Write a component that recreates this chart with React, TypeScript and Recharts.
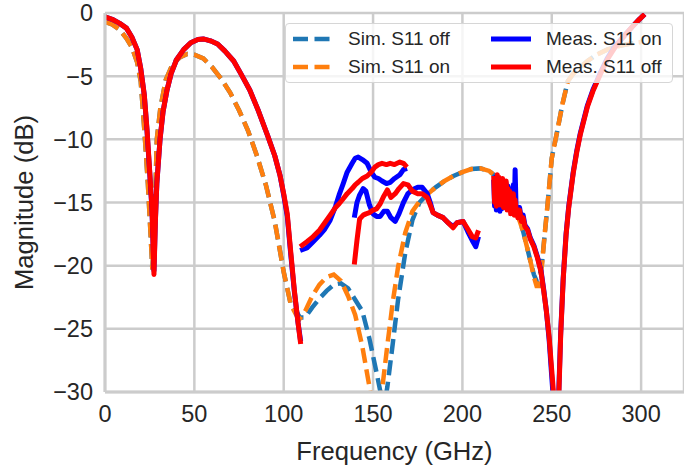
import { LineChart, Line, XAxis, YAxis, CartesianGrid, Label } from 'recharts';

// simulated S11, both states on one frequency grid (GHz / dB)
const simFreq = [
  0, 4, 8, 12, 15, 18, 20, 22, 24, 25.5,
  26.5, 27.5, 29, 31, 34, 38, 42, 46, 50, 55,
  60, 65, 70, 75, 80, 85, 90, 95, 100, 104,
  107, 109, 112, 116, 120, 124, 128, 132, 136, 140,
  144, 148, 152, 154, 156, 158, 161, 164, 168, 172,
  176, 180, 185, 190, 195, 200, 205, 210, 215, 220,
  225, 230, 234, 238, 240, 241.5, 243, 244.5, 246, 247.5,
  250, 253, 256, 259, 262, 266, 270, 275, 281, 288,
  295, 300,
];
const simOn = [
  -0.7, -0.9, -1.3, -2.0, -2.7, -3.9, -5.4, -9.2, -13.5, -17.5,
  -20.3, -17.8, -10, -7.5, -5.3, -4.0, -3.5, -3.25, -3.3, -3.6,
  -4.3, -5.2, -6.3, -7.7, -9.3, -11.3, -13.6, -16.5, -20.5, -23.1,
  -23.9, -24.2, -23.6, -22.4, -21.5, -20.9, -20.7, -21.2, -22.4, -23.9,
  -26.4, -29.6, -33, -31, -28.7, -26.3, -22.9, -20.1, -17.4, -15.7,
  -14.9, -14.4, -13.8, -13.3, -12.9, -12.6, -12.35, -12.3, -12.5, -13.1,
  -14.1, -15.6, -17.3, -19.6, -20.9, -21.6, -21.6, -20.0, -17.6, -15.4,
  -11.5, -9.4, -7.2, -5.4, -4.8, -4.3, -3.8, -3.3, -2.9, -2.6,
  -2.4, -2.3,
];
const simOff = [
  -0.7, -0.9, -1.3, -2.0, -2.7, -3.9, -5.4, -9.2, -13.5, -17.5,
  -20.3, -17.8, -10, -7.5, -5.3, -4.0, -3.5, -3.25, -3.3, -3.6,
  -4.3, -5.2, -6.3, -7.7, -9.3, -11.3, -13.6, -16.5, -20.5, -23.1,
  -23.6, -24.1, -24.1, -23.3, -22.6, -22.0, -21.5, -21.4, -21.8, -22.7,
  -23.6, -25.8, -28.5, -29.9, -31.3, -29.6, -26.2, -22.7, -19.0, -16.4,
  -15.0, -14.4, -13.8, -13.3, -12.9, -12.6, -12.35, -12.3, -12.5, -13.1,
  -14.1, -15.6, -17.3, -19.6, -20.7, -21.2, -21.0, -19.8, -17.6, -15.4,
  -11.5, -9.4, -7.2, -5.4, -4.8, -4.3, -3.8, -3.3, -2.9, -2.6,
  -2.4, -2.3,
];

// measured S11, four bands
const band1Freq = [
  0, 4, 8, 12, 15, 18, 20, 22, 23.5, 25,
  26.3, 27.4, 28.2, 29, 30.8, 32.5, 34.7, 37, 40, 44,
  48, 52, 55, 59, 63, 67, 72, 76, 81, 86,
  91, 95, 98, 100, 102, 104, 106, 108, 109.5,
];
const measOffBand1 = [
  -0.3, -0.5, -0.8, -1.2, -1.9, -2.9, -4.4, -6.5, -9.2, -12.5,
  -15.5, -20.7, -16.5, -13.5, -10, -7.8, -6.1, -4.8, -3.7, -2.9,
  -2.35, -2.1, -2.05, -2.2, -2.45, -3.0, -3.8, -4.8, -6.1, -7.8,
  -9.7, -11.3, -12.9, -14.3, -15.9, -19, -22, -24.5, -26.2,
];
const measOnBand1 = [
  -0.3, -0.5, -0.8, -1.2, -1.9, -2.9, -4.4, -6.5, -9.3, -12.6,
  -15.6, -20.4, -16.4, -13.5, -10, -7.8, -6.1, -4.8, -3.7, -2.9,
  -2.35, -2.1, -2.05, -2.2, -2.45, -3.0, -3.8, -4.8, -6.1, -7.8,
  -9.7, -11.3, -12.9, -14.4, -16.1, -19.2, -22.1, -24.5, -26.0,
];

const band2Freq = [
  109.2, 113, 116.5, 120, 123, 126, 129, 131, 133.3, 135.5,
  138.3, 140, 141.7, 144, 146.7, 149, 151, 153, 155, 157.5,
  159.6, 162, 165, 167, 169,
];
const measOnBand2 = [
  -18.8, -18.6, -18.1, -17.6, -17.1, -16.4, -15.3, -14.4, -13.5, -12.6,
  -11.9, -11.5, -11.4, -11.6, -11.9, -12.6, -13.0, -13.1, -13.3, -13.5,
  -13.4, -13.1, -12.8, -12.4, -12.3,
];
const measOffBand2 = [
  -18.5, -18.1, -17.7, -17.2, -16.6, -16.0, -15.4, -15.1, -14.7, -14.3,
  -13.9, -13.6, -13.4, -13.1, -12.9, -12.6, -12.2, -12.0, -11.9, -12.0,
  -11.9, -12.0, -11.8, -11.9, -12.2,
];

const band3Freq = [
  139.5, 141, 142.5, 144.5, 146, 148, 150, 152, 154, 156,
  158, 160, 162.4, 164.5, 167, 169.5, 172, 175, 177.5, 180.3,
  182, 183.6, 186, 189.2, 192, 194.8, 197, 200.4, 203, 205.5,
  207.5, 209,
];
const measOnBand3 = [
  -16.2, -15.0, -14.4, -13.9, -14.1, -15.2, -15.9, -16.1, -16.1, -15.7,
  -15.7, -16.2, -16.5, -15.9, -15.0, -14.3, -14.0, -13.8, -13.8, -14.3,
  -15.0, -15.8, -16.0, -16.2, -16.6, -16.9, -16.6, -16.5, -17.3, -18.0,
  -18.5, -17.7,
];
const measOffBand3 = [
  -19.9, -18.0, -16.3, -16.0, -15.9, -15.8, -15.6, -15.5, -15.1, -14.5,
  -14.0, -14.6, -14.3, -13.9, -13.5, -13.6, -14.1, -14.3, -14.3, -14.6,
  -15.2, -15.8, -16.0, -16.2, -16.6, -17.0, -16.6, -16.5, -17.1, -17.7,
  -17.8, -17.2,
];

const band4Freq = [
  217.5, 218, 218.5, 219, 219.5, 220, 220.5, 221, 221.5, 222,
  222.5, 223, 223.5, 224, 224.5, 225, 225.5, 226, 226.5, 227,
  227.5, 228, 228.5, 229, 229.5, 230, 231, 232, 233, 234,
  235, 236.5, 238, 240, 242, 244, 245.5, 247, 248.5, 250,
  251.5, 253, 253.8, 255, 256.4, 258, 259.5, 262, 264, 266,
  270, 273, 277, 281, 285, 290, 295, 299, 302,
];
const measOffBand4 = [
  -12.9, -15.0, -13.2, -15.3, -12.8, -14.6, -13.0, -15.2, -13.4, -14.9,
  -13.1, -15.4, -13.6, -15.0, -13.3, -15.6, -13.9, -15.3, -14.1, -15.9,
  -14.4, -15.7, -14.3, -16.0, -14.8, -15.5, -16.2, -15.6, -16.5, -16.2,
  -16.9, -17.2, -17.9, -18.5, -19.4, -20.5, -22.0, -23.6, -25.6, -28.3,
  -31.0, -33.0, -31.0, -25.5, -21.1, -17.6, -15.4, -12.7, -11.0, -9.6,
  -7.4, -6.2, -4.9, -3.7, -2.8, -1.9, -1.1, -0.5, -0.1,
];
const measOnBand4 = [
  -13.2, -15.3, -13.0, -15.6, -13.1, -14.8, -13.3, -15.7, -13.6, -15.5,
  -13.4, -15.4, -13.8, -15.2, -13.5, -15.5, -13.7, -15.1, -13.9, -15.6,
  -14.2, -15.4, -13.6, -15.8, -12.4, -15.3, -16.0, -15.4, -16.3, -16.0,
  -16.8, -17.1, -17.8, -18.4, -19.3, -20.4, -21.9, -23.6, -25.8, -28.8,
  -31.8, -33.0, -30.5, -25.3, -21.0, -17.5, -15.3, -12.6, -10.9, -9.5,
  -7.3, -6.1, -4.8, -3.6, -2.7, -1.9, -1.1, -0.5, -0.1,
];

const xTicks = [0, 50, 100, 150, 200, 250, 300];
const yTicks = [0, -5, -10, -15, -20, -25, -30];

const zip = (f: number[], v: number[]) => f.map((x, i) => ({ f: x, db: v[i] as number | null }));
// join bands into one series, with a null point between them so the line breaks
const joinBands = (...bands: { f: number; db: number | null }[][]) =>
  bands.flatMap((b, i) => (i === 0 ? b : [{ f: b[0].f, db: null }, ...b]));

const simOffData = zip(simFreq, simOff);
const simOnData = zip(simFreq, simOn);
const measOnData = joinBands(
  zip(band1Freq, measOnBand1),
  zip(band2Freq, measOnBand2),
  zip(band3Freq, measOnBand3),
  zip(band4Freq, measOnBand4),
);
const measOffData = joinBands(
  zip(band1Freq, measOffBand1),
  zip(band2Freq, measOffBand2),
  zip(band3Freq, measOffBand3),
  zip(band4Freq, measOffBand4),
);

const FONT = '"Liberation Sans", Arial, sans-serif';
const INK = '#262626';
const GRID = '#cccccc';
const DASH = '15 6.5';

const legendItems = [
  { label: 'Sim. S11 off', color: '#1f77b4', dash: DASH, col: 0, row: 0 },
  { label: 'Sim. S11 on', color: '#ff7f0e', dash: DASH, col: 0, row: 1 },
  { label: 'Meas. S11 on', color: '#0000ff', dash: undefined, col: 1, row: 0 },
  { label: 'Meas. S11 off', color: '#ff0000', dash: undefined, col: 1, row: 1 },
];

const minus = (v: number) => String(v).replace('-', '\u2212');

export default function App() {
  return (
    <div style={{ position: 'absolute', left: 0, top: 0, width: 684, height: 466, background: '#fff', fontFamily: FONT }}>
      <LineChart width={684} height={466} margin={{ top: 13, right: 0, bottom: 0, left: 0 }}>
        <CartesianGrid stroke={GRID} strokeWidth={2.5} />
        <XAxis
          type="number"
          dataKey="f"
          domain={[0, 324]}
          ticks={xTicks}
          interval={0}
          allowDataOverflow
          height={74}
          tickSize={0}
          tickMargin={13}
          tickLine={false}
          axisLine={{ stroke: GRID, strokeWidth: 3 }}
          tick={{ fill: INK, fontSize: 23.5, fontFamily: FONT }}
        >
          <Label
            content={({ viewBox }: any) => (
              <text x={viewBox.x + viewBox.width / 2} y={viewBox.y + 68} textAnchor="middle"
                fill={INK} fontSize={25.6} fontFamily={FONT}>
                Frequency (GHz)
              </text>
            )}
          />
        </XAxis>
        <YAxis
          type="number"
          domain={[-30, 0]}
          ticks={yTicks}
          interval={0}
          allowDataOverflow
          width={105}
          tickSize={0}
          tickMargin={12}
          tickLine={false}
          axisLine={{ stroke: GRID, strokeWidth: 3 }}
          tickFormatter={minus}
          tick={{ fill: INK, fontSize: 23.5, fontFamily: FONT }}
        >
          <Label
            content={({ viewBox }: any) => {
              const cx = viewBox.x + 33;
              const cy = viewBox.y + viewBox.height / 2;
              return (
                <text x={cx} y={cy} transform={`rotate(-90 ${cx} ${cy})`} textAnchor="middle"
                  fill={INK} fontSize={25.6} fontFamily={FONT}>
                  Magnitude (dB)
                </text>
              );
            }}
          />
        </YAxis>
        <Line data={simOffData} dataKey="db" type="linear" stroke="#1f77b4" strokeWidth={4.5}
          strokeDasharray={DASH} dot={false} activeDot={false} isAnimationActive={false} />
        <Line data={simOnData} dataKey="db" type="linear" stroke="#ff7f0e" strokeWidth={4.5}
          strokeDasharray={DASH} dot={false} activeDot={false} isAnimationActive={false} />
        <Line data={measOnData} dataKey="db" type="linear" stroke="#0000ff" strokeWidth={5}
          strokeLinejoin="round" dot={false} activeDot={false} isAnimationActive={false} />
        <Line data={measOffData} dataKey="db" type="linear" stroke="#ff0000" strokeWidth={5}
          strokeLinejoin="round" dot={false} activeDot={false} isAnimationActive={false} />
      </LineChart>

      {/* legend box, drawn over the plot like matplotlib's */}
      <div
        style={{
          position: 'absolute', left: 285, top: 23, width: 388, height: 60, boxSizing: 'border-box',
          background: 'rgba(255,255,255,0.8)', border: '1.5px solid #d6d6d6', borderRadius: 4,
        }}
      >
        {legendItems.map((it) => (
          <div key={it.label} style={{ position: 'absolute', left: it.col ? 205 : 7, top: it.row ? 43 : 15 }}>
            <svg width={40} height={6} style={{ position: 'absolute', left: 0, top: -3 }}>
              <line x1={0} y1={3} x2={40} y2={3} stroke={it.color} strokeWidth={it.dash ? 4.5 : 5}
                strokeDasharray={it.dash} />
            </svg>
            <span style={{
              position: 'absolute', left: 55, top: -12, whiteSpace: 'nowrap',
              fontSize: 19, lineHeight: '24px', color: INK, fontFamily: FONT,
            }}>{it.label}</span>
          </div>
        ))}
      </div>
    </div>
  );
}
